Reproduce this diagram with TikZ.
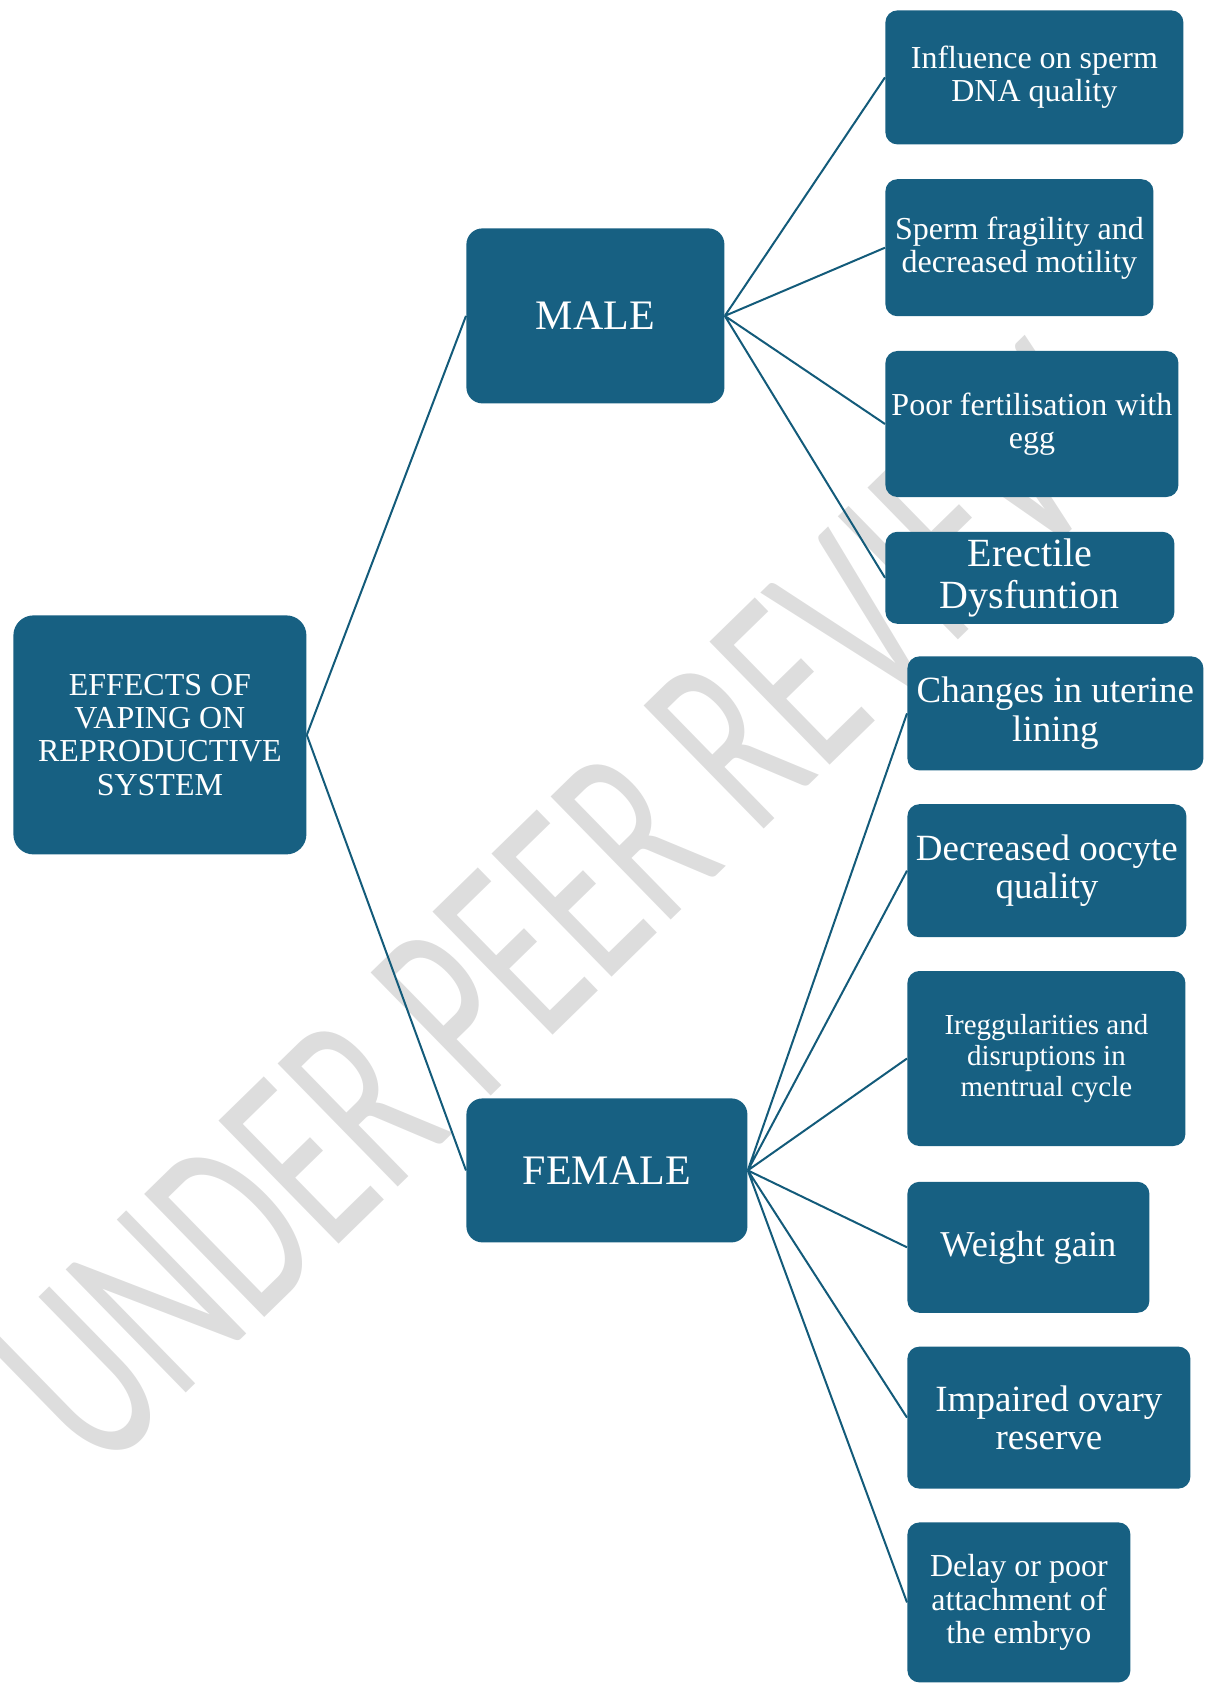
\documentclass[tikz,border=0pt]{standalone}
\usepackage{fontspec}
\setmainfont{Liberation Serif}
\newfontfamily\wmfont{Carlito}
\usetikzlibrary{positioning}
\definecolor{boxblue}{HTML}{176082}
\definecolor{linkblue}{HTML}{135B7A}
\definecolor{wmgray}{HTML}{DDDDDD}

\begin{document}
\begin{tikzpicture}[
  x=0.5pt, y=-0.5pt,
  node distance=16.5pt,
  box/.style={anchor=north west, rounded corners=6pt, fill=boxblue, text=white, align=center, inner sep=2pt},
  link/.style={draw=linkblue, line width=1pt},
  wmark/.style={text=wmgray, rotate=44.3, anchor=base, inner sep=0pt}
]
\useasboundingbox (0,0) rectangle (1209,1684);
\clip (0,0) rectangle (1209,1684);
% watermark behind everything
\node[wmark] (wm) at (623,967) {\scalebox{0.63}[1]{\wmfont\fontsize{134}{134}\selectfont UNDER PEER REVIEW}};

% root and the two branches
\node[box, rounded corners=10pt, minimum width=146.5pt, minimum height=119.5pt, font=\fontsize{16}{16.6}\selectfont] (root) at (13,615) {EFFECTS OF\\VAPING ON\\REPRODUCTIVE\\SYSTEM};
\node[box, rounded corners=8pt, minimum width=129pt, minimum height=87.5pt, font=\fontsize{21}{22}\selectfont] (male) at (466,228) {MALE};
\node[box, rounded corners=8pt, minimum width=140.5pt, minimum height=72pt, font=\fontsize{21}{22}\selectfont] (female) at (466,1098) {FEMALE};

% male effects
\node[box, minimum width=149pt, minimum height=67pt, font=\fontsize{16}{16.5}\selectfont] (infl) at (885,10) {Influence on sperm\\DNA quality};
\node[box, below=17pt of infl.south west, anchor=north west, minimum width=134pt, minimum height=68.5pt, font=\fontsize{16}{16.5}\selectfont] (sperm) {Sperm fragility and\\decreased motility};
\node[box, below=17pt of sperm.south west, anchor=north west, minimum width=146.5pt, minimum height=73pt, font=\fontsize{16}{16.5}\selectfont] (poor) {Poor fertilisation with\\egg};
\node[box, below=17pt of poor.south west, anchor=north west, minimum width=144.5pt, minimum height=46pt, font=\fontsize{20}{20.8}\selectfont] (erect) {Erectile\\Dysfuntion};

% female effects
\node[box, minimum width=148pt, minimum height=57pt, font=\fontsize{18.5}{19.3}\selectfont] (uterine) at (907,656) {Changes in uterine\\lining};
\node[box, below=of uterine.south west, anchor=north west, minimum width=139.5pt, minimum height=66.5pt, font=\fontsize{18.5}{19.3}\selectfont] (oocyte) {Decreased oocyte\\quality};
\node[box, below=of oocyte.south west, anchor=north west, minimum width=139pt, minimum height=87.5pt, font=\fontsize{14.5}{15.3}\selectfont] (cycle) {Ireggularities and\\disruptions in\\mentrual cycle};
\node[box, below=17.5pt of cycle.south west, anchor=north west, minimum width=121pt, minimum height=65.5pt, font=\fontsize{18.2}{19}\selectfont] (weight) {Weight gain};
\node[box, below=of weight.south west, anchor=north west, minimum width=141.5pt, minimum height=71pt, font=\fontsize{18.5}{18.8}\selectfont] (ovary) {Impaired ovary\\reserve};
\node[box, below=of ovary.south west, anchor=north west, minimum width=111.5pt, minimum height=80pt, font=\fontsize{16}{16.9}\selectfont] (embryo) {Delay or poor\\attachment of\\the embryo};

% connectors
\draw[link] (root.east) -- (male.west) (root.east) -- (female.west);
\draw[link] (male.east) -- (infl.west) (male.east) -- (sperm.west)
  (male.east) -- (poor.west) (male.east) -- (erect.west);
\draw[link] (female.east) -- (uterine.west) (female.east) -- (oocyte.west)
  (female.east) -- (cycle.west) (female.east) -- (weight.west)
  (female.east) -- (ovary.west) (female.east) -- (embryo.west);
\end{tikzpicture}
\end{document}
